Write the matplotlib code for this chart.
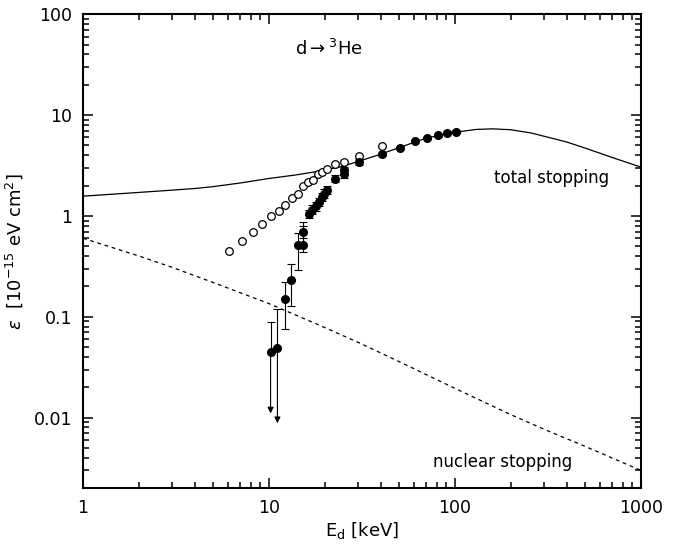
import matplotlib
matplotlib.use("Agg")
import matplotlib.pyplot as plt
from matplotlib.ticker import LogLocator, FixedLocator, NullFormatter

# total stopping curve (E in keV, eps in 1e-15 eV cm^2)
total_e = [1, 1.5, 2, 3, 4, 5, 7, 10, 14, 18, 24, 30, 40, 50, 70, 100,
           130, 160, 200, 256, 320, 400, 520, 700, 1000]
total_s = [1.57, 1.65, 1.71, 1.80, 1.87, 1.95, 2.12, 2.35, 2.55, 2.75, 3.05,
           3.45, 4.1, 4.75, 5.9, 6.75, 7.2, 7.3, 7.15, 6.65, 6.0, 5.4,
           4.6, 3.8, 3.05]

# nuclear stopping curve
nucl_e = [1, 2, 3, 5.5, 10, 18, 30, 50, 100, 200, 300, 500, 1000]
nucl_s = [0.6, 0.40, 0.31, 0.205, 0.135, 0.085, 0.056, 0.036, 0.0195,
          0.0107, 0.0077, 0.0052, 0.003]

# open circles
open_e = [6.1, 7.2, 8.2, 9.2, 10.2, 11.3, 12.2, 13.3, 14.3, 15.3, 16.2,
          17.3, 18.3, 19.3, 20.4, 22.7, 25.4, 30.6, 40.6]
open_s = [0.45, 0.57, 0.69, 0.84, 0.99, 1.13, 1.27, 1.52, 1.66, 1.96, 2.17,
          2.29, 2.58, 2.72, 2.94, 3.24, 3.42, 3.9, 4.9]

# filled circles with error bars
fill_e = [12.2, 13.1, 14.3, 15.2, 15.3, 16.4, 17.0, 17.8, 18.5, 19.3, 19.8,
          20.4, 22.7, 25.4, 25.4, 30.6, 40.6, 50.4, 60.9, 70.9, 80.7, 90.8, 101]
fill_s = [0.15, 0.23, 0.51, 0.51, 0.69, 1.05, 1.15, 1.24, 1.37, 1.54, 1.66,
          1.82, 2.34, 2.62, 2.83, 3.42, 4.08, 4.75, 5.53, 5.92, 6.3, 6.7, 6.85]
fill_lo = [0.075, 0.127, 0.29, 0.44, 0.60, 0.95, 1.04, 1.12, 1.24, 1.40, 1.51,
           1.66, 2.15, 2.40, 2.60, 3.2, 3.9, 4.6, 5.35, 5.75, 6.1, 6.5, 6.65]
fill_hi = [0.22, 0.33, 0.67, 0.87, 0.80, 1.15, 1.27, 1.37, 1.51, 1.70, 1.83,
           2.0, 2.55, 2.85, 3.07, 3.65, 4.25, 4.9, 5.7, 6.1, 6.5, 6.9, 7.05]

# upper limits (arrows)
lim_e = [10.2, 11.1]
lim_s = [0.045, 0.049]
lim_hi = [0.089, 0.12]
lim_tip = [0.011, 0.0088]

fig = plt.figure(figsize=(6.81, 5.46), dpi=100)
ax = fig.add_axes([0.122, 0.106, 0.819, 0.868])

ax.plot(total_e, total_s, color="black", lw=0.9)
ax.plot(nucl_e, nucl_s, color="black", lw=0.9, ls=(0, (3, 3)))

ax.plot(open_e, open_s, "o", mfc="white", mec="black", ms=5.5, mew=0.9)

yerr = [[s - l for s, l in zip(fill_s, fill_lo)],
        [h - s for s, h in zip(fill_s, fill_hi)]]
ax.errorbar(fill_e, fill_s, yerr=yerr, fmt="o", color="black", ms=5.5,
            capsize=3, elinewidth=0.8, capthick=0.8)

for e, s, h, t in zip(lim_e, lim_s, lim_hi, lim_tip):
    ax.errorbar([e], [s], yerr=[[0], [h - s]], fmt="o", color="black", ms=5.5,
                capsize=3, elinewidth=0.8, capthick=0.8)
    ax.annotate("", xy=(e, t), xytext=(e, s),
                arrowprops=dict(arrowstyle="-|>", color="black", lw=0.8,
                                mutation_scale=9, shrinkA=0, shrinkB=0))

ax.set_xscale("log")
ax.set_yscale("log")
ax.set_xlim(1, 1000)
ax.set_ylim(0.002, 100)

ax.xaxis.set_major_locator(FixedLocator([1, 10, 100, 1000]))
ax.set_xticklabels(["1", "10", "100", "1000"])
ax.yaxis.set_major_locator(FixedLocator([0.01, 0.1, 1, 10, 100]))
ax.set_yticklabels(["0.01", "0.1", "1", "10", "100"])
ax.xaxis.set_minor_locator(LogLocator(base=10, subs=range(2, 10), numticks=20))
ax.yaxis.set_minor_locator(LogLocator(base=10, subs=range(2, 10), numticks=20))
ax.xaxis.set_minor_formatter(NullFormatter())
ax.yaxis.set_minor_formatter(NullFormatter())
ax.tick_params(which="both", direction="in", top=True, right=True,
               labelsize=12.5, width=1.1)
ax.tick_params(which="major", length=7, pad=8)
ax.tick_params(which="minor", length=4)
for sp in ax.spines.values():
    sp.set_linewidth(1.5)

ax.text(21, 45, r"d$\rightarrow$$^3$He", fontsize=13, ha="center", va="center")
ax.text(330, 2.4, "total stopping", fontsize=12, ha="center", va="center")
ax.text(180, 0.0036, "nuclear stopping", fontsize=12, ha="center", va="center")

ax.set_xlabel(r"E$_\mathrm{d}$ [keV]", fontsize=13, labelpad=2)
ax.set_ylabel(r"$\varepsilon$  [10$^{-15}$ eV cm$^{2}$]", fontsize=13, labelpad=6)

fig.savefig("out.png", dpi=100)
